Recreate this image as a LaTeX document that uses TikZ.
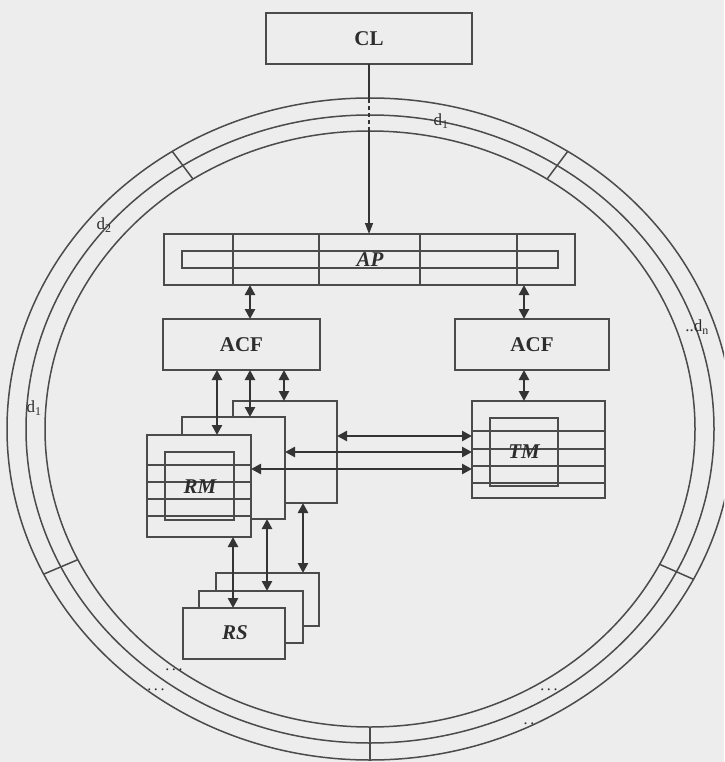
\documentclass[tikz,border=0pt]{standalone}
\usepackage{fontspec}
\setmainfont{Liberation Serif}
\usetikzlibrary{arrows.meta}
\definecolor{bg}{RGB}{237,237,237}
\definecolor{ln}{RGB}{75,75,75}
\definecolor{ar}{RGB}{52,52,52}
\definecolor{tx}{RGB}{45,45,45}
\begin{document}
\begin{tikzpicture}[x=1pt,y=-1pt,
  bx/.style 2 args={draw=ln,line width=1.5pt,fill=bg,minimum width=#1pt,minimum height=#2pt,inner sep=0pt,outer sep=0pt},
  lbl/.style={font=\fontsize{21}{21}\selectfont\bfseries,text=tx},
  ilbl/.style={font=\fontsize{21}{21}\selectfont\bfseries\itshape,text=tx,inner sep=0pt},
  dlbl/.style={font=\fontsize{17}{17}\selectfont,text=tx,inner sep=0pt},
  dotl/.style={font=\fontsize{16}{16}\selectfont,text=tx,inner sep=0pt},
  ring/.style={draw=ln,line width=1.5pt},
  divl/.style={draw=ln,line width=1.6pt},
  dbl/.style={draw=ar,line width=2.5pt,{Triangle[length=10pt,width=10pt]}-{Triangle[length=10pt,width=10pt]}},
  sgl/.style={draw=ar,line width=1.4pt,-{Triangle[length=11pt,width=8pt]}}]
\useasboundingbox (0,0) rectangle (724,762);
\fill[bg] (0,0) rectangle (724,762);
\clip (0,0) rectangle (724,762);
% rings
\coordinate (ctr) at (370,429);
\draw[ring] (ctr) ellipse [x radius=363pt, y radius=331pt];
\draw[ring] (ctr) ellipse [x radius=344pt, y radius=314pt];
\draw[ring] (ctr) ellipse [x radius=325pt, y radius=298pt];
\foreach \t in {57,123,206,270,333}
  \draw[ring] ({370+363*cos(\t)},{429-331*sin(\t)}) -- ({370+325*cos(\t)},{429-298*sin(\t)});
% labels on rings
\node[dlbl] (d1) at (441,121) {d\textsubscript{1}};
\node[dlbl] (d2) at (104,225) {d\textsubscript{2}};
\node[dlbl] (d3) at (34,408) {d\textsubscript{1}};
\node[dlbl] (dn) at (697,327) {..d\textsubscript{n}};
\node[dotl] (e1) at (174,670) {.\,.\,.};
\node[dotl] (e2) at (156,690) {.\,.\,.};
\node[dotl] (e3) at (549,690) {.\,.\,.};
\node[dotl] (e4) at (529,724) {.\,.};
% CL
\node[bx={206}{51},lbl] (cl) at (369,38.5) {CL};
% AP
\node[bx={411}{51}] (ap) at (369.5,259.5) {};
\node[bx={376}{17}] (apin) at (370,259.5) {};
\foreach \x in {233,319,420,517} \draw[divl] (\x,234) -- (\x,285);
\node[ilbl] (aplab) at (370,260) {AP};
% CL arrow
\coordinate (rtop) at (369,99);
\coordinate (rin) at (369,131);
\draw[draw=ar,line width=1.4pt] (cl.south) -- (rtop);
\draw[draw=ar,line width=1.4pt,dash pattern=on 4pt off 3pt] (rtop) -- (rin);
\draw[sgl] (rin) -- (ap.north -| rin);
% ACF
\node[bx={157}{51},lbl] (acfl) at (241.5,344.5) {ACF};
\node[bx={154}{51},lbl] (acfr) at (532,344.5) {ACF};
% TM
\node[bx={133}{97}] (tm) at (538.5,449.5) {};
\node[bx={68}{68}] (tmin) at (524,452) {};
\foreach \y in {431,449,466,483} \draw[divl] (472,\y) -- (605,\y);
\node[ilbl] (tmlab) at (524,452) {TM};
% RM stack
\node[bx={104}{102}] (rmb) at (285,452) {};
\node[bx={103}{102}] (rmm) at (233.5,468) {};
\node[bx={104}{102}] (rmf) at (199,486) {};
\node[bx={69}{68}] (rmin) at (199.5,486) {};
\foreach \y in {465,482,499,516} \draw[divl] (147,\y) -- (251,\y);
\node[ilbl] (rmlab) at (200,487) {RM};
% RS stack
\node[bx={103}{53}] (rsb) at (267.5,599.5) {};
\node[bx={104}{52}] (rsm) at (251,617) {};
\node[bx={102}{51}] (rsf) at (234,633.5) {};
\node[ilbl] (rslab) at (235,633) {RS};
% x positions of connectors
\coordinate (xa) at (250,0);
\coordinate (xb) at (524,0);
\coordinate (xc) at (217,0);
\coordinate (xd) at (284,0);
\coordinate (xe) at (233,0);
\coordinate (xf) at (267,0);
\coordinate (xg) at (303,0);
\coordinate (ya) at (0,436);
\coordinate (yb) at (0,452);
\coordinate (yc) at (0,469);
% arrows
\draw[dbl] (ap.south -| xa) -- (acfl.north -| xa);
\draw[dbl] (ap.south -| xb) -- (acfr.north -| xb);
\draw[dbl] (acfr.south -| xb) -- (tm.north -| xb);
\draw[dbl] (acfl.south -| xc) -- (rmf.north -| xc);
\draw[dbl] (acfl.south -| xa) -- (rmm.north -| xa);
\draw[dbl] (acfl.south -| xd) -- (rmb.north -| xd);
\draw[dbl] (rmb.east |- ya) -- (tm.west |- ya);
\draw[dbl] (rmm.east |- yb) -- (tm.west |- yb);
\draw[dbl] (rmf.east |- yc) -- (tm.west |- yc);
\draw[dbl] (rmf.south -| xe) -- (rsf.north -| xe);
\draw[dbl] (rmm.south -| xf) -- (rsm.north -| xf);
\draw[dbl] (rmb.south -| xg) -- (rsb.north -| xg);
\end{tikzpicture}
\end{document}
